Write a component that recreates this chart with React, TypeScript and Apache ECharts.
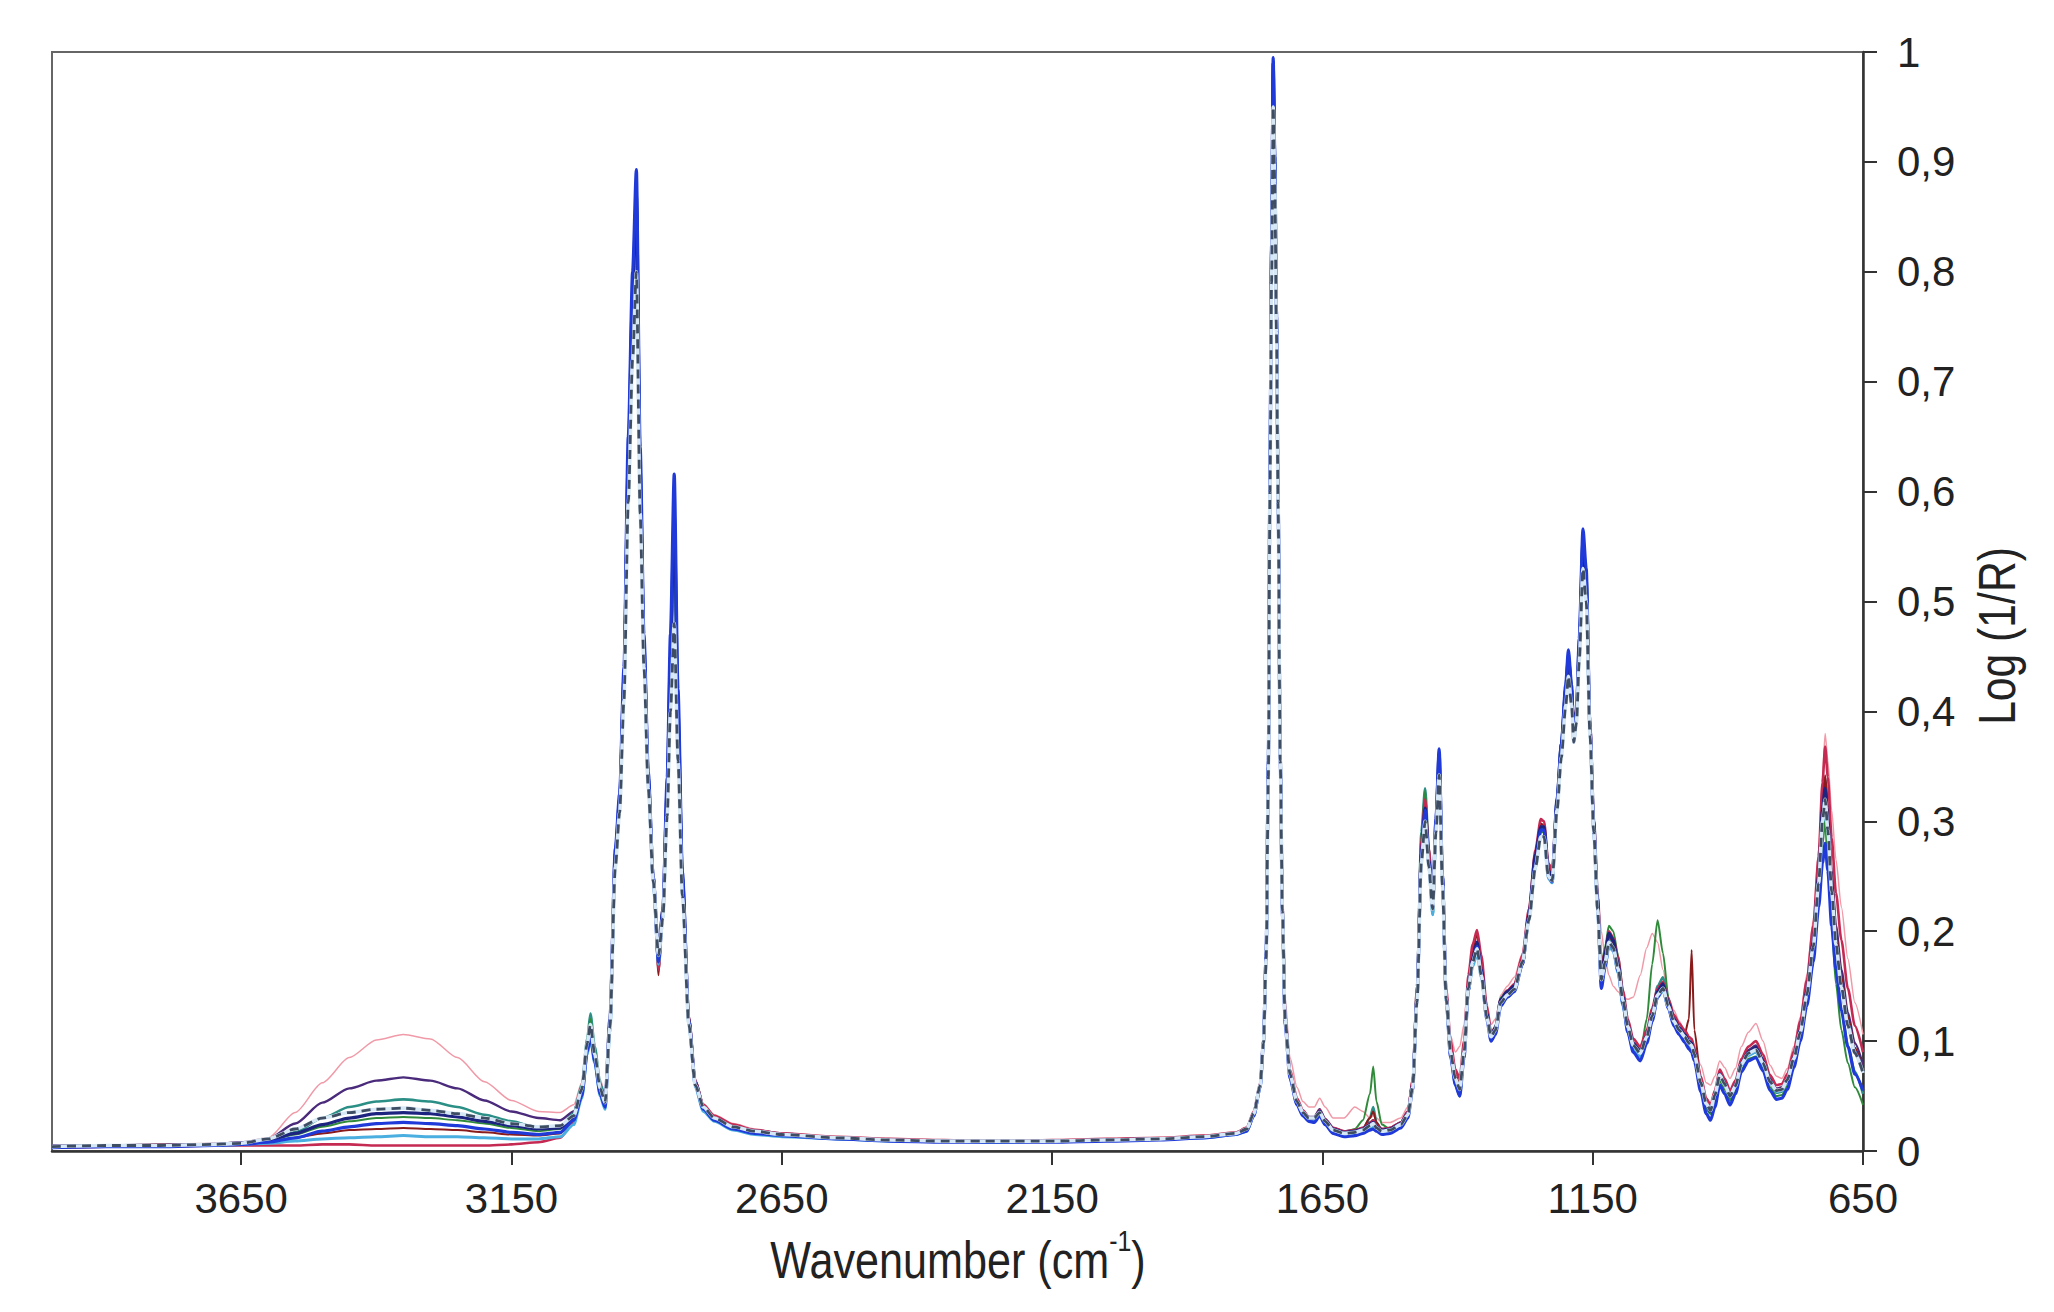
import React, { useEffect, useRef } from "react";
import * as echarts from "echarts";

// Wavenumber grid (cm-1), shared by all spectra
const WAVENUMBER = [
  4000, 3900, 3800, 3700, 3650, 3600, 3550, 3500, 3450, 3400, 3350, 3300, 3250, 3200, 3150, 3100, 3060,
  3035, 3020, 3010, 3004, 2996, 2986, 2977, 2968, 2958, 2950,
  2942, 2934, 2926, 2919, 2912, 2905, 2897, 2888, 2878, 2870,
  2862, 2856, 2849, 2842, 2834, 2822, 2810, 2795, 2775, 2740, 2700,
  2650, 2550, 2450, 2350, 2250, 2150, 2050, 1950, 1870, 1810,
  1790, 1777, 1765, 1759, 1754, 1750, 1747, 1744, 1741, 1738,
  1735, 1732, 1728, 1724, 1719, 1710, 1697, 1686, 1675,
  1665, 1655, 1645, 1630, 1610,
  1590, 1575, 1562, 1556, 1550,
  1540, 1525, 1505, 1492, 1483,
  1475, 1467, 1460, 1453, 1446,
  1440, 1434, 1428, 1421, 1413,
  1404, 1396, 1388, 1380, 1372,
  1364, 1356, 1346, 1338, 1330,
  1320, 1308, 1295, 1280, 1268,
  1256, 1246, 1240, 1232, 1225,
  1216, 1208, 1200, 1195, 1189,
  1185, 1180, 1175, 1168, 1162,
  1155, 1148, 1141, 1134, 1127,
  1120, 1112, 1103, 1094, 1085,
  1075, 1062, 1050, 1040, 1030,
  1020, 1010, 1000, 990, 980,
  972, 967, 962, 950, 940,
  932, 924, 915, 906, 896,
  886, 875, 862, 848, 835,
  822, 810, 800, 790, 778,
  766, 754, 742, 732, 725,
  720, 715, 708, 700, 690,
  678, 665, 650,
];

const PINK = [
  0.004, 0.005, 0.006, 0.007, 0.008, 0.012, 0.035, 0.062, 0.085, 0.101, 0.106, 0.102, 0.085, 0.063, 0.046, 0.036, 0.035,
  0.042, 0.062, 0.100, 0.118, 0.092, 0.065, 0.052, 0.115, 0.260, 0.310,
  0.420, 0.610, 0.760, 0.845, 0.600, 0.450, 0.335, 0.250, 0.185, 0.225,
  0.325, 0.440, 0.550, 0.390, 0.245, 0.120, 0.065, 0.043, 0.033, 0.025, 0.020,
  0.016, 0.013, 0.011, 0.010, 0.010, 0.010, 0.011, 0.012, 0.014, 0.017,
  0.022, 0.036, 0.062, 0.100, 0.175, 0.340, 0.600, 0.800, 0.970, 0.890,
  0.760, 0.610, 0.380, 0.240, 0.140, 0.085, 0.058, 0.045, 0.040,
  0.040, 0.048, 0.040, 0.030, 0.030,
  0.040, 0.036, 0.030, 0.032, 0.030,
  0.026, 0.026, 0.030, 0.040, 0.068,
  0.150, 0.275, 0.318, 0.275, 0.235,
  0.295, 0.350, 0.255, 0.150, 0.105,
  0.090, 0.095, 0.115, 0.160, 0.185,
  0.195, 0.172, 0.135, 0.115, 0.120,
  0.142, 0.150, 0.158, 0.180, 0.222,
  0.270, 0.300, 0.300, 0.262, 0.258,
  0.318, 0.365, 0.415, 0.440, 0.412,
  0.385, 0.405, 0.455, 0.540, 0.515,
  0.400, 0.300, 0.240, 0.200, 0.175,
  0.160, 0.150, 0.145, 0.140, 0.138,
  0.140, 0.160, 0.185, 0.198, 0.190,
  0.165, 0.140, 0.128, 0.118, 0.110,
  0.104, 0.102, 0.096, 0.078, 0.062,
  0.060, 0.068, 0.082, 0.076, 0.066,
  0.075, 0.095, 0.108, 0.116, 0.100,
  0.078, 0.068, 0.066, 0.075, 0.095,
  0.122, 0.160, 0.210, 0.275, 0.340,
  0.380, 0.355, 0.310, 0.265, 0.222,
  0.175, 0.135, 0.106,
];

const PURPLE = [
  0.005, 0.005, 0.006, 0.006, 0.008, 0.011, 0.025, 0.044, 0.057, 0.064, 0.067, 0.064, 0.057, 0.046, 0.036, 0.030, 0.028,
  0.036, 0.058, 0.098, 0.112, 0.088, 0.060, 0.050, 0.118, 0.265, 0.318,
  0.425, 0.620, 0.770, 0.860, 0.615, 0.455, 0.340, 0.252, 0.185, 0.222,
  0.330, 0.445, 0.570, 0.395, 0.250, 0.122, 0.064, 0.042, 0.031, 0.023, 0.019,
  0.016, 0.012, 0.010, 0.009, 0.009, 0.009, 0.010, 0.011, 0.013, 0.016,
  0.020, 0.034, 0.058, 0.098, 0.178, 0.345, 0.610, 0.815, 0.985, 0.895,
  0.755, 0.598, 0.362, 0.222, 0.122, 0.072, 0.046, 0.036, 0.031,
  0.031, 0.038, 0.029, 0.021, 0.018,
  0.019, 0.021, 0.026, 0.028, 0.023,
  0.020, 0.021, 0.026, 0.036, 0.064,
  0.145, 0.272, 0.308, 0.262, 0.220,
  0.296, 0.356, 0.248, 0.142, 0.092,
  0.068, 0.058, 0.092, 0.152, 0.176,
  0.188, 0.163, 0.124, 0.104, 0.110,
  0.136, 0.142, 0.148, 0.172, 0.212,
  0.262, 0.292, 0.294, 0.252, 0.248,
  0.316, 0.366, 0.416, 0.446, 0.416,
  0.378, 0.398, 0.456, 0.548, 0.514,
  0.382, 0.298, 0.228, 0.158, 0.176,
  0.196, 0.190, 0.172, 0.142, 0.116,
  0.098, 0.092, 0.106, 0.126, 0.146,
  0.152, 0.136, 0.120, 0.112, 0.106,
  0.100, 0.098, 0.090, 0.064, 0.044,
  0.038, 0.052, 0.072, 0.064, 0.052,
  0.062, 0.082, 0.092, 0.096, 0.084,
  0.066, 0.057, 0.058, 0.067, 0.087,
  0.112, 0.148, 0.195, 0.255, 0.318,
  0.340, 0.312, 0.255, 0.205, 0.165,
  0.126, 0.098, 0.078,
];

const TEAL = [
  0.004, 0.005, 0.005, 0.006, 0.007, 0.010, 0.017, 0.030, 0.040, 0.045, 0.047, 0.045, 0.040, 0.033, 0.027, 0.021, 0.022,
  0.034, 0.060, 0.102, 0.125, 0.095, 0.062, 0.046, 0.112, 0.262, 0.315,
  0.425, 0.625, 0.775, 0.865, 0.615, 0.455, 0.338, 0.250, 0.176, 0.218,
  0.326, 0.448, 0.575, 0.398, 0.248, 0.118, 0.060, 0.040, 0.030, 0.022, 0.018,
  0.015, 0.012, 0.010, 0.009, 0.009, 0.009, 0.010, 0.011, 0.013, 0.016,
  0.020, 0.034, 0.060, 0.100, 0.182, 0.352, 0.622, 0.822, 0.992, 0.902,
  0.762, 0.602, 0.362, 0.222, 0.120, 0.070, 0.044, 0.034, 0.029,
  0.029, 0.035, 0.027, 0.019, 0.016,
  0.017, 0.020, 0.030, 0.040, 0.026,
  0.019, 0.019, 0.024, 0.033, 0.062,
  0.150, 0.290, 0.330, 0.275, 0.215,
  0.296, 0.360, 0.246, 0.136, 0.086,
  0.060, 0.050, 0.086, 0.145, 0.170,
  0.185, 0.160, 0.122, 0.102, 0.110,
  0.136, 0.144, 0.148, 0.172, 0.214,
  0.266, 0.296, 0.292, 0.255, 0.250,
  0.322, 0.372, 0.422, 0.452, 0.422,
  0.382, 0.402, 0.462, 0.558, 0.522,
  0.388, 0.296, 0.222, 0.150, 0.170,
  0.192, 0.186, 0.166, 0.135, 0.110,
  0.092, 0.086, 0.102, 0.124, 0.150,
  0.158, 0.138, 0.120, 0.110, 0.103,
  0.097, 0.094, 0.086, 0.058, 0.038,
  0.034, 0.048, 0.068, 0.060, 0.048,
  0.058, 0.078, 0.088, 0.090, 0.079,
  0.062, 0.053, 0.054, 0.062, 0.082,
  0.106, 0.140, 0.182, 0.236, 0.290,
  0.305, 0.272, 0.215, 0.168, 0.128,
  0.096, 0.072, 0.052,
];

const NAVY = [
  0.004, 0.005, 0.005, 0.006, 0.007, 0.010, 0.016, 0.024, 0.030, 0.034, 0.035, 0.034, 0.031, 0.027, 0.023, 0.020, 0.021,
  0.030, 0.055, 0.095, 0.110, 0.085, 0.055, 0.045, 0.120, 0.270, 0.320,
  0.430, 0.630, 0.780, 0.870, 0.620, 0.460, 0.340, 0.250, 0.180, 0.220,
  0.330, 0.450, 0.580, 0.400, 0.250, 0.120, 0.062, 0.040, 0.030, 0.022, 0.018,
  0.015, 0.012, 0.010, 0.009, 0.009, 0.009, 0.010, 0.011, 0.013, 0.016,
  0.020, 0.034, 0.060, 0.100, 0.180, 0.350, 0.620, 0.820, 0.990, 0.900,
  0.760, 0.600, 0.360, 0.220, 0.120, 0.070, 0.045, 0.035, 0.030,
  0.030, 0.036, 0.028, 0.020, 0.017,
  0.018, 0.020, 0.024, 0.026, 0.022,
  0.019, 0.020, 0.025, 0.034, 0.060,
  0.140, 0.270, 0.312, 0.265, 0.222,
  0.300, 0.362, 0.250, 0.140, 0.090,
  0.065, 0.055, 0.090, 0.150, 0.175,
  0.190, 0.165, 0.125, 0.105, 0.112,
  0.138, 0.145, 0.150, 0.170, 0.215,
  0.270, 0.295, 0.295, 0.255, 0.250,
  0.320, 0.370, 0.420, 0.450, 0.420,
  0.380, 0.400, 0.460, 0.555, 0.520,
  0.385, 0.300, 0.230, 0.155, 0.180,
  0.198, 0.192, 0.170, 0.140, 0.115,
  0.098, 0.090, 0.105, 0.125, 0.145,
  0.152, 0.135, 0.120, 0.112, 0.106,
  0.100, 0.098, 0.090, 0.062, 0.042,
  0.036, 0.050, 0.070, 0.062, 0.050,
  0.060, 0.080, 0.090, 0.094, 0.082,
  0.064, 0.055, 0.056, 0.065, 0.085,
  0.110, 0.145, 0.190, 0.250, 0.310,
  0.330, 0.300, 0.240, 0.190, 0.150,
  0.115, 0.090, 0.072,
];

const BLUE = [
  0.003, 0.004, 0.004, 0.005, 0.006, 0.008, 0.012, 0.018, 0.022, 0.025, 0.026, 0.025, 0.023, 0.020, 0.017, 0.015, 0.017,
  0.028, 0.050, 0.090, 0.105, 0.082, 0.052, 0.040, 0.115, 0.275, 0.325,
  0.440, 0.650, 0.800, 0.893, 0.640, 0.470, 0.345, 0.250, 0.172, 0.218,
  0.340, 0.470, 0.616, 0.420, 0.255, 0.118, 0.060, 0.038, 0.028, 0.020, 0.016,
  0.014, 0.011, 0.009, 0.008, 0.008, 0.008, 0.009, 0.010, 0.012, 0.015,
  0.018, 0.032, 0.058, 0.098, 0.182, 0.355, 0.625, 0.825, 0.995, 0.905,
  0.765, 0.600, 0.355, 0.215, 0.115, 0.066, 0.042, 0.032, 0.027,
  0.026, 0.032, 0.024, 0.016, 0.013,
  0.014, 0.016, 0.019, 0.020, 0.018,
  0.015, 0.016, 0.021, 0.030, 0.056,
  0.138, 0.268, 0.310, 0.262, 0.220,
  0.302, 0.366, 0.252, 0.138, 0.086,
  0.060, 0.050, 0.085, 0.146, 0.172,
  0.186, 0.162, 0.120, 0.100, 0.106,
  0.132, 0.140, 0.145, 0.170, 0.212,
  0.262, 0.292, 0.292, 0.250, 0.245,
  0.318, 0.370, 0.424, 0.456, 0.424,
  0.372, 0.398, 0.466, 0.566, 0.530,
  0.385, 0.292, 0.222, 0.148, 0.168,
  0.190, 0.184, 0.164, 0.134, 0.108,
  0.090, 0.082, 0.098, 0.118, 0.140,
  0.148, 0.130, 0.114, 0.106, 0.099,
  0.093, 0.090, 0.082, 0.054, 0.034,
  0.028, 0.040, 0.060, 0.052, 0.042,
  0.052, 0.072, 0.082, 0.085, 0.073,
  0.055, 0.047, 0.048, 0.056, 0.076,
  0.100, 0.132, 0.172, 0.222, 0.262,
  0.280, 0.255, 0.205, 0.165, 0.128,
  0.095, 0.070, 0.055,
];

const CYAN = [
  0.004, 0.004, 0.005, 0.005, 0.006, 0.007, 0.009, 0.011, 0.012, 0.013, 0.014, 0.013, 0.013, 0.012, 0.011, 0.011, 0.013,
  0.024, 0.048, 0.088, 0.102, 0.080, 0.050, 0.038, 0.108, 0.262, 0.318,
  0.428, 0.628, 0.775, 0.860, 0.612, 0.452, 0.335, 0.245, 0.170, 0.212,
  0.322, 0.440, 0.560, 0.390, 0.242, 0.115, 0.058, 0.036, 0.027, 0.019, 0.015,
  0.013, 0.011, 0.009, 0.009, 0.008, 0.009, 0.010, 0.011, 0.012, 0.015,
  0.018, 0.032, 0.058, 0.100, 0.180, 0.350, 0.620, 0.820, 0.990, 0.898,
  0.758, 0.598, 0.358, 0.218, 0.118, 0.068, 0.043, 0.033, 0.028,
  0.027, 0.033, 0.025, 0.017, 0.014,
  0.015, 0.017, 0.021, 0.022, 0.019,
  0.016, 0.017, 0.022, 0.031, 0.058,
  0.140, 0.268, 0.305, 0.258, 0.215,
  0.294, 0.352, 0.244, 0.136, 0.088,
  0.064, 0.054, 0.088, 0.146, 0.168,
  0.180, 0.158, 0.122, 0.104, 0.110,
  0.134, 0.140, 0.146, 0.170, 0.210,
  0.258, 0.286, 0.286, 0.248, 0.244,
  0.312, 0.362, 0.410, 0.438, 0.410,
  0.376, 0.394, 0.452, 0.540, 0.508,
  0.380, 0.290, 0.220, 0.152, 0.168,
  0.186, 0.182, 0.162, 0.132, 0.108,
  0.092, 0.086, 0.100, 0.120, 0.140,
  0.146, 0.130, 0.116, 0.108, 0.102,
  0.096, 0.094, 0.086, 0.060, 0.042,
  0.037, 0.050, 0.068, 0.060, 0.050,
  0.058, 0.078, 0.087, 0.090, 0.078,
  0.062, 0.054, 0.055, 0.064, 0.084,
  0.108, 0.142, 0.185, 0.242, 0.298,
  0.318, 0.292, 0.236, 0.188, 0.150,
  0.116, 0.090, 0.072,
];

const CRIMSON = [
  0.003, 0.004, 0.004, 0.005, 0.005, 0.005, 0.005, 0.006, 0.006, 0.005, 0.005, 0.005, 0.005, 0.005, 0.006, 0.008, 0.012,
  0.026, 0.050, 0.092, 0.115, 0.088, 0.056, 0.040, 0.110, 0.268, 0.320,
  0.432, 0.632, 0.780, 0.868, 0.618, 0.458, 0.340, 0.250, 0.165, 0.215,
  0.328, 0.448, 0.575, 0.398, 0.250, 0.122, 0.064, 0.042, 0.032, 0.024, 0.019,
  0.016, 0.013, 0.011, 0.010, 0.009, 0.010, 0.011, 0.012, 0.014, 0.017,
  0.021, 0.036, 0.062, 0.102, 0.182, 0.350, 0.615, 0.815, 0.985, 0.896,
  0.758, 0.602, 0.365, 0.226, 0.125, 0.074, 0.048, 0.037, 0.031,
  0.030, 0.037, 0.029, 0.021, 0.018,
  0.019, 0.021, 0.025, 0.028, 0.023,
  0.020, 0.021, 0.026, 0.036, 0.064,
  0.150, 0.282, 0.320, 0.275, 0.230,
  0.298, 0.350, 0.248, 0.148, 0.100,
  0.074, 0.066, 0.100, 0.160, 0.188,
  0.201, 0.178, 0.132, 0.108, 0.112,
  0.138, 0.146, 0.152, 0.178, 0.220,
  0.274, 0.302, 0.300, 0.262, 0.255,
  0.318, 0.366, 0.414, 0.440, 0.414,
  0.386, 0.404, 0.458, 0.545, 0.512,
  0.392, 0.302, 0.232, 0.168, 0.182,
  0.200, 0.194, 0.176, 0.146, 0.120,
  0.102, 0.095, 0.110, 0.130, 0.148,
  0.154, 0.138, 0.124, 0.116, 0.110,
  0.104, 0.102, 0.094, 0.068, 0.048,
  0.042, 0.055, 0.074, 0.066, 0.055,
  0.064, 0.084, 0.095, 0.100, 0.088,
  0.069, 0.060, 0.061, 0.070, 0.091,
  0.118, 0.155, 0.205, 0.268, 0.335,
  0.368, 0.340, 0.285, 0.235, 0.192,
  0.148, 0.114, 0.090,
];

const GREEN = [
  0.004, 0.005, 0.005, 0.006, 0.007, 0.009, 0.015, 0.022, 0.027, 0.030, 0.031, 0.030, 0.028, 0.025, 0.021, 0.018, 0.020,
  0.032, 0.058, 0.100, 0.120, 0.092, 0.058, 0.044, 0.114, 0.265, 0.318,
  0.428, 0.625, 0.772, 0.858, 0.610, 0.452, 0.336, 0.248, 0.175, 0.216,
  0.325, 0.442, 0.565, 0.392, 0.245, 0.118, 0.060, 0.039, 0.029, 0.021, 0.017,
  0.014, 0.011, 0.009, 0.009, 0.008, 0.009, 0.010, 0.011, 0.012, 0.015,
  0.019, 0.033, 0.059, 0.099, 0.178, 0.346, 0.612, 0.812, 0.982, 0.894,
  0.755, 0.596, 0.358, 0.220, 0.120, 0.070, 0.044, 0.034, 0.029,
  0.029, 0.035, 0.027, 0.019, 0.017,
  0.020, 0.028, 0.052, 0.077, 0.045,
  0.024, 0.020, 0.024, 0.033, 0.060,
  0.145, 0.285, 0.328, 0.272, 0.218,
  0.292, 0.352, 0.244, 0.138, 0.088,
  0.062, 0.052, 0.088, 0.148, 0.174,
  0.186, 0.162, 0.124, 0.106, 0.114,
  0.140, 0.146, 0.150, 0.172, 0.212,
  0.262, 0.290, 0.290, 0.252, 0.248,
  0.316, 0.366, 0.418, 0.448, 0.418,
  0.380, 0.398, 0.458, 0.550, 0.516,
  0.384, 0.296, 0.226, 0.168, 0.186,
  0.205, 0.200, 0.178, 0.146, 0.112,
  0.092, 0.088, 0.120, 0.170, 0.210,
  0.180, 0.140, 0.118, 0.108, 0.100,
  0.094, 0.092, 0.084, 0.058, 0.040,
  0.034, 0.046, 0.064, 0.056, 0.046,
  0.055, 0.074, 0.084, 0.086, 0.075,
  0.058, 0.050, 0.051, 0.059, 0.079,
  0.102, 0.134, 0.172, 0.226, 0.278,
  0.300, 0.268, 0.205, 0.152, 0.110,
  0.080, 0.058, 0.042,
];

const DARKRED = [
  0.004, 0.005, 0.006, 0.006, 0.007, 0.008, 0.012, 0.016, 0.019, 0.020, 0.021, 0.020, 0.019, 0.017, 0.015, 0.014, 0.016,
  0.030, 0.054, 0.094, 0.112, 0.086, 0.054, 0.042, 0.116, 0.270, 0.322,
  0.432, 0.632, 0.782, 0.872, 0.622, 0.462, 0.342, 0.252, 0.160, 0.220,
  0.332, 0.452, 0.582, 0.402, 0.252, 0.120, 0.062, 0.040, 0.030, 0.022, 0.018,
  0.015, 0.012, 0.010, 0.009, 0.009, 0.009, 0.010, 0.011, 0.013, 0.016,
  0.020, 0.034, 0.060, 0.100, 0.180, 0.350, 0.620, 0.820, 0.990, 0.900,
  0.760, 0.600, 0.360, 0.220, 0.120, 0.070, 0.045, 0.035, 0.030,
  0.030, 0.036, 0.028, 0.020, 0.017,
  0.018, 0.021, 0.030, 0.036, 0.026,
  0.019, 0.020, 0.025, 0.034, 0.060,
  0.140, 0.270, 0.315, 0.268, 0.224,
  0.302, 0.364, 0.252, 0.142, 0.094,
  0.070, 0.060, 0.094, 0.152, 0.182,
  0.198, 0.170, 0.128, 0.106, 0.112,
  0.138, 0.145, 0.150, 0.176, 0.216,
  0.268, 0.298, 0.296, 0.258, 0.252,
  0.320, 0.370, 0.420, 0.450, 0.420,
  0.380, 0.400, 0.460, 0.552, 0.518,
  0.390, 0.298, 0.226, 0.162, 0.178,
  0.196, 0.190, 0.170, 0.140, 0.116,
  0.098, 0.092, 0.108, 0.126, 0.144,
  0.150, 0.134, 0.120, 0.112, 0.106,
  0.120, 0.183, 0.110, 0.066, 0.044,
  0.038, 0.052, 0.070, 0.062, 0.052,
  0.061, 0.081, 0.091, 0.094, 0.082,
  0.064, 0.056, 0.057, 0.066, 0.086,
  0.112, 0.148, 0.194, 0.256, 0.318,
  0.342, 0.312, 0.252, 0.200, 0.158,
  0.122, 0.094, 0.074,
];

const DASHED = [
  0.004, 0.005, 0.005, 0.006, 0.007, 0.011, 0.020, 0.030, 0.035, 0.038, 0.039, 0.037, 0.034, 0.030, 0.025, 0.022, 0.023,
  0.032, 0.056, 0.098, 0.115, 0.088, 0.057, 0.044, 0.112, 0.258, 0.308,
  0.410, 0.590, 0.720, 0.800, 0.580, 0.440, 0.330, 0.246, 0.178, 0.212,
  0.305, 0.400, 0.480, 0.355, 0.232, 0.115, 0.060, 0.040, 0.030, 0.022, 0.018,
  0.015, 0.012, 0.010, 0.009, 0.009, 0.009, 0.010, 0.011, 0.013, 0.016,
  0.020, 0.034, 0.060, 0.098, 0.175, 0.340, 0.600, 0.790, 0.950, 0.880,
  0.745, 0.590, 0.355, 0.218, 0.120, 0.070, 0.045, 0.035, 0.030,
  0.030, 0.035, 0.027, 0.019, 0.016,
  0.017, 0.019, 0.023, 0.025, 0.021,
  0.018, 0.019, 0.024, 0.033, 0.058,
  0.136, 0.262, 0.300, 0.258, 0.220,
  0.290, 0.342, 0.242, 0.138, 0.090,
  0.066, 0.056, 0.090, 0.148, 0.172,
  0.184, 0.160, 0.122, 0.104, 0.110,
  0.135, 0.142, 0.147, 0.172, 0.210,
  0.258, 0.286, 0.286, 0.250, 0.246,
  0.310, 0.358, 0.405, 0.432, 0.405,
  0.372, 0.390, 0.445, 0.530, 0.500,
  0.378, 0.290, 0.220, 0.156, 0.172,
  0.190, 0.185, 0.166, 0.137, 0.113,
  0.096, 0.089, 0.104, 0.123, 0.142,
  0.148, 0.132, 0.118, 0.110, 0.104,
  0.098, 0.096, 0.088, 0.062, 0.043,
  0.037, 0.051, 0.069, 0.061, 0.050,
  0.059, 0.079, 0.089, 0.092, 0.080,
  0.063, 0.055, 0.056, 0.065, 0.084,
  0.108, 0.142, 0.186, 0.244, 0.300,
  0.320, 0.292, 0.236, 0.188, 0.149,
  0.114, 0.089, 0.071,
];

const X_TICKS = [3650, 3150, 2650, 2150, 1650, 1150, 650];
const X_NAME = "Wavenumber (cm";
const X_NAME_SUP = "-1";
const Y_NAME = "Log (1/R)";

const SANS = '"Liberation Sans", Arial, Helvetica, sans-serif';

const LINES = [
  { data: PINK, color: "#f09aa8", width: 1.5 },
  { data: PURPLE, color: "#4a2a7a", width: 2.4 },
  { data: TEAL, color: "#2b8f86", width: 2.6 },
  { data: GREEN, color: "#2f8a3a", width: 2 },
  { data: DARKRED, color: "#8a1b1b", width: 2 },
  { data: CRIMSON, color: "#c42a52", width: 2.6 },
  { data: CYAN, color: "#4aaee0", width: 3 },
  { data: NAVY, color: "#1c2480", width: 3.2 },
  { data: BLUE, color: "#1f3ad8", width: 3.2 },
  { data: DASHED, color: "#d6e8f6", width: 3.6 },
  { data: DASHED, color: "#3f4d63", width: 2.8, dashed: true },
];

export default function App() {
  const ref = useRef<HTMLDivElement>(null);

  useEffect(() => {
    if (!ref.current) return;
    const chart = echarts.init(ref.current, null, { renderer: "svg" });

    const series = LINES.map((l, idx) => ({
      type: "line",
      name: "s" + idx,
      data: WAVENUMBER.map((w, i) => [w, l.data[i]]),
      showSymbol: false,
      symbol: "none",
      smooth: 0.25,
      smoothMonotone: "x",
      lineStyle: {
        color: l.color,
        width: l.width,
        type: l.dashed ? [9, 6] : "solid",
      },
      itemStyle: { color: l.color },
      silent: true,
      z: 2 + idx,
    }));

    chart.setOption({
      animation: false,
      backgroundColor: "#ffffff",
      grid: {
        left: 52,
        right: 2054 - 1863,
        top: 52,
        bottom: 1312 - 1151,
        show: true,
        borderColor: "#666",
        borderWidth: 2,
        backgroundColor: "transparent",
      },
      xAxis: {
        type: "value",
        inverse: true,
        min: 650,
        max: 4000,
        axisLine: { show: true, onZero: false, lineStyle: { color: "#333", width: 2.5 } },
        axisTick: {
          show: true,
          length: 14,
          customValues: X_TICKS,
          lineStyle: { color: "#333", width: 2 },
        },
        axisLabel: {
          customValues: X_TICKS,
          fontSize: 42,
          fontFamily: SANS,
          color: "#222",
          margin: 26,
          formatter: (v: number) => String(Math.round(v)),
        },
        splitLine: { show: false },
      },
      yAxis: {
        type: "value",
        position: "right",
        min: 0,
        max: 1,
        interval: 0.1,
        axisLine: { show: true, onZero: false, lineStyle: { color: "#333", width: 2.5 } },
        axisTick: { show: true, length: 14, lineStyle: { color: "#333", width: 2 } },
        axisLabel: {
          fontSize: 42,
          fontFamily: SANS,
          color: "#222",
          margin: 34,
          formatter: (v: number) => {
            if (Math.abs(v) < 1e-9) return "0";
            if (Math.abs(v - 1) < 1e-9) return "1";
            return v.toFixed(1).replace(".", ",");
          },
        },
        splitLine: { show: false },
      },
      graphic: [
        {
          type: "text",
          x: 958,
          y: 1256,
          scaleX: 0.83,
          silent: true,
          style: {
            text: "{a|" + X_NAME + "}{s|" + X_NAME_SUP + "}{a|)}",
            align: "center",
            verticalAlign: "middle",
            rich: {
              a: { fontSize: 52, fontFamily: SANS, fill: "#222", lineHeight: 60, verticalAlign: "bottom" },
              s: { fontSize: 30, fontFamily: SANS, fill: "#222", lineHeight: 30, verticalAlign: "top" },
            },
          },
        },
        {
          type: "text",
          x: 1997,
          y: 636,
          rotation: Math.PI / 2,
          scaleX: 0.82,
          silent: true,
          style: {
            text: Y_NAME,
            fontSize: 52,
            fontFamily: SANS,
            fill: "#222",
            align: "center",
            verticalAlign: "middle",
          },
        },
      ],
      series,
    });

    return () => chart.dispose();
  }, []);

  return (
    <div
      ref={ref}
      style={{ position: "absolute", left: 0, top: 0, width: 2054, height: 1312, background: "#fff" }}
    />
  );
}
